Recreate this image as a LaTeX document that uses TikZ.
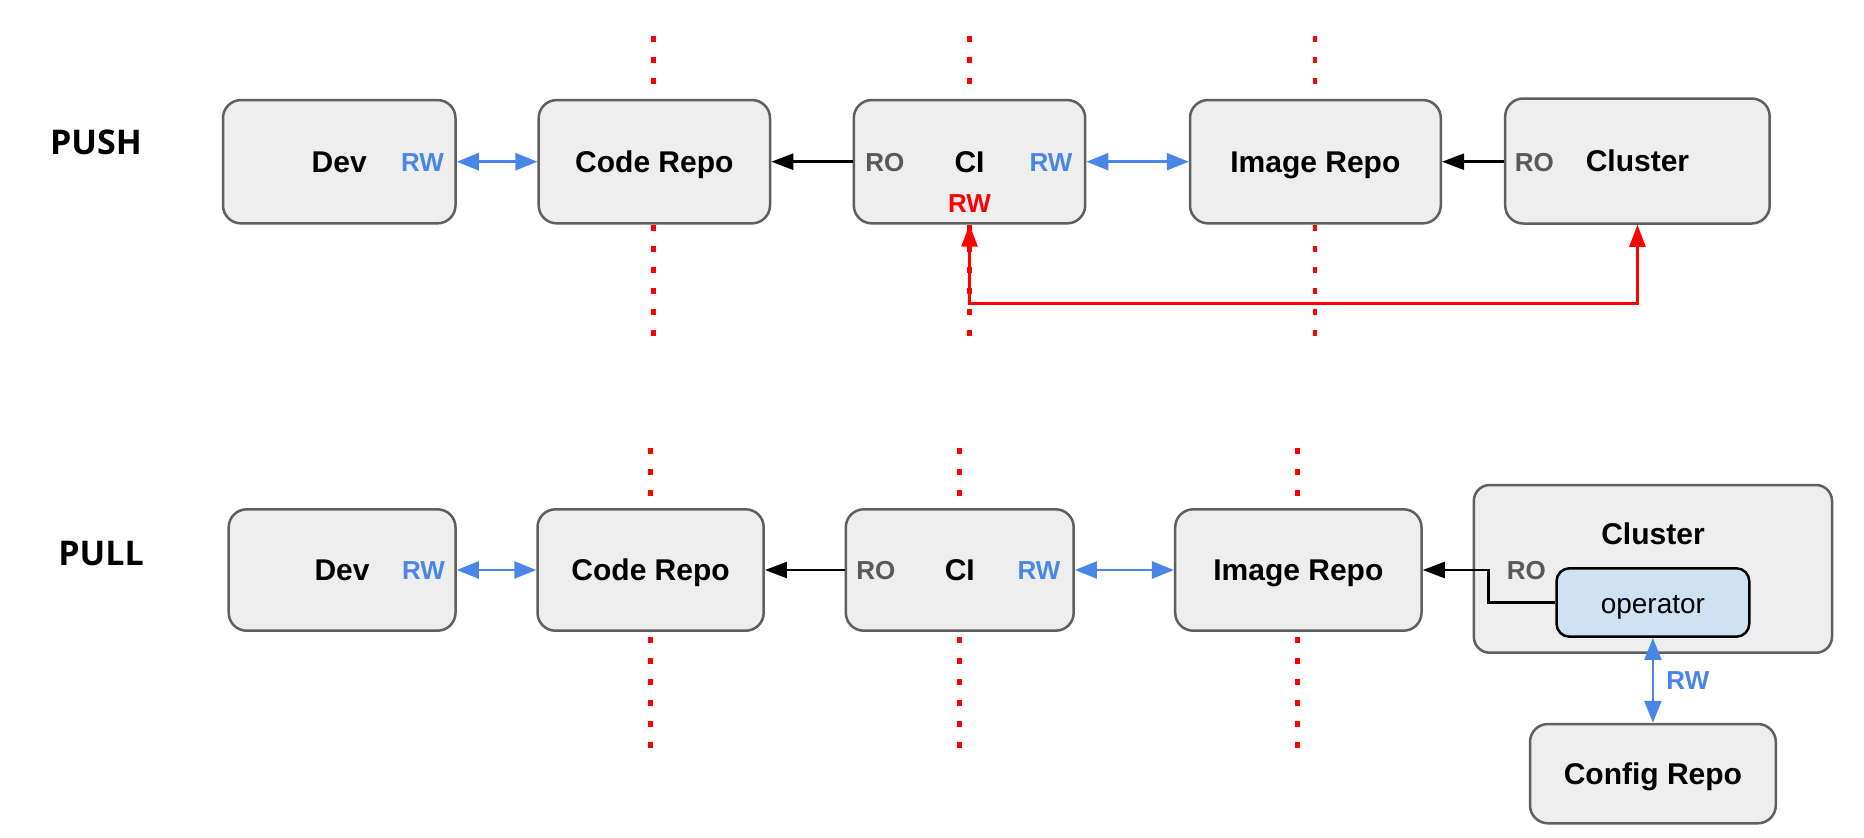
\documentclass[tikz,border=0pt]{standalone}
\usepackage{fontspec}
\setmainfont{Liberation Sans}
\newfontfamily\headfont{Open Sans}
\usetikzlibrary{arrows.meta}
\definecolor{boxfill}{HTML}{EEEEEE}
\definecolor{boxline}{HTML}{5F5F5F}
\definecolor{opfill}{HTML}{CFE2F3}
\definecolor{rwblue}{HTML}{4A86E8}
\definecolor{rogray}{HTML}{595959}
\definecolor{redline}{HTML}{FF0000}
\tikzset{
  box/.style={draw=boxline, line width=2.5pt, fill=boxfill, rounded corners=18pt,
    inner sep=0pt, font=\fontsize{30}{36}\selectfont\bfseries, text height=21.5pt, text depth=0pt},
  opbox/.style={draw=black, line width=2.5pt, fill=opfill, rounded corners=13pt,
    inner sep=0pt, font=\fontsize{28}{34}\selectfont, text height=21.6pt, text depth=0pt},
  lbl/.style={inner sep=0pt, font=\fontsize{26}{32}\selectfont\bfseries, text height=18.6pt, text depth=0pt},
  rw/.style={lbl, text=rwblue},
  ro/.style={lbl, text=rogray},
  rwred/.style={lbl, text=redline},
  head/.style={inner sep=0pt, font=\fontsize{34}{40}\selectfont\headfont\bfseries, text height=24.3pt, text depth=0pt},
  sep/.style={draw=redline, line width=4.5pt, dash pattern=on 6pt off 15pt},
  bluearrow/.style={draw=rwblue, line width=2.5pt, {Triangle[length=22pt,width=17pt]}-{Triangle[length=22pt,width=17pt]}},
  blackarrow/.style={draw=black, line width=2.5pt, -{Triangle[length=22pt,width=16pt]}},
  redarrow/.style={draw=redline, line width=2.5pt, {Triangle[length=22pt,width=16pt]}-{Triangle[length=22pt,width=16pt]}},
}
\begin{document}
\begin{tikzpicture}[x=1pt,y=-1pt]
\useasboundingbox[fill=white] (0,0) rectangle (1864,838);
% separators
\draw[sep] (653.5,36) -- (653.5,350);
\draw[sep] (969.5,36) -- (969.5,350);
\draw[sep] (1315,36) -- (1315,350);
\draw[sep] (650.6,448) -- (650.6,754);
\draw[sep] (959.5,448) -- (959.5,754);
\draw[sep] (1297.5,448) -- (1297.5,754);
% labels
\node[head] (push) at (96,142) {PUSH};
\node[head] (pull) at (101,553) {PULL};
% PUSH row
\node[box, minimum width=232.5, minimum height=123.3] (devA) at (339.25,161.7) {Dev};
\node[box, minimum width=231.3, minimum height=123.3] (codeA) at (654.35,161.7) {Code Repo};
\node[box, minimum width=231.4, minimum height=123.3] (ciA) at (969.5,161.7) {CI};
\node[box, minimum width=250.8, minimum height=123.3] (imgA) at (1315.4,161.7) {Image Repo};
\node[box, minimum width=264.5, minimum height=125] (clusA) at (1637.45,161) {Cluster};
\node[rw] (devArw) at (422.5,161.7) {RW};
\node[ro] (ciAro) at (884.9,161.7) {RO};
\node[rw] (ciArw) at (1051,161.7) {RW};
\node[rwred] (ciArwred) at (969.5,202.7) {RW};
\node[ro] (clusAro) at (1534.4,161.7) {RO};
\draw[bluearrow] (devA.east) -- (codeA.west);
\draw[blackarrow] (ciA.west) -- (codeA.east);
\draw[bluearrow] (ciA.east) -- (imgA.west);
\draw[blackarrow] (clusA.west |- imgA.east) -- (imgA.east);
\coordinate (redc) at (969.5,303.3);
\draw[redarrow] (ciA.south) -- (redc) -| (clusA.south);
% PULL row
\node[box, minimum width=226.8, minimum height=121.4] (devB) at (342.1,570) {Dev};
\node[box, minimum width=226.2, minimum height=121.4] (codeB) at (650.6,570) {Code Repo};
\node[box, minimum width=227.9, minimum height=121.4] (ciB) at (959.75,570) {CI};
\node[box, minimum width=246.3, minimum height=121.4] (imgB) at (1298.35,570) {Image Repo};
\node[box, minimum width=358.2, minimum height=167.7, rounded corners=16pt] (clusB) at (1652.9,568.85) {};
\node[box, draw=none, fill=none] (clusBt) at (1653,533.3) {Cluster};
\node[opbox, minimum width=192.8, minimum height=68.4] (opB) at (1652.9,602.5) {operator};
\node[box, minimum width=245.8, minimum height=99.3] (cfgB) at (1652.9,773.65) {Config Repo};
\node[rw] (devBrw) at (423.5,570) {RW};
\node[ro] (ciBro) at (875.9,570) {RO};
\node[rw] (ciBrw) at (1039,570) {RW};
\node[ro] (clusBro) at (1526.3,570) {RO};
\node[rw] (cfgrw) at (1687.9,680) {RW};
\draw[bluearrow] (devB.east) -- (codeB.west);
\draw[blackarrow] (ciB.west) -- (codeB.east);
\draw[bluearrow] (ciB.east) -- (imgB.west);
\coordinate (opk) at (1488.7,602.5);
\draw[blackarrow] (opB.west) -- (opk) |- (imgB.east);
\draw[bluearrow] (opB.south) -- (cfgB.north);
\end{tikzpicture}
\end{document}
